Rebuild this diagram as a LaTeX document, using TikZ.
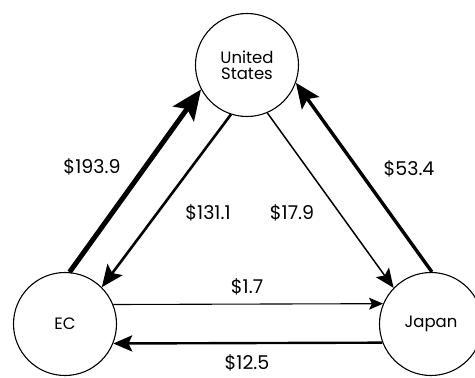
\documentclass[tikz,border=0pt]{standalone}
\usepackage{fontspec}
\setmainfont{Poppins}
\usetikzlibrary{arrows.meta}

\begin{document}
\begin{tikzpicture}[x=1pt, y=-1pt, country/.style={circle, draw, line width=1.1pt,
            minimum size=103pt, inner sep=0pt, align=center, font=\fontsize{16.5}{18}\selectfont},
          flow/.style={-{Stealth[length=#1, width=0.85*#1, inset=0.2*#1]}},
          amount/.style={inner sep=1pt, font=\fontsize{19}{21}\selectfont}]
          \useasboundingbox (0,0) rectangle (475,378);

          \node[country] (us) at (247,65) {United\\[-2pt]States};
          \node[country] (ec) at (65,324) {EC};
          \node[country] (jp) at (431,324) {Japan};

          \draw[flow=30pt, line width=5pt] (ec.85) -- (us.208);
          \draw[flow=22pt, line width=2.6pt] (us.252) -- (ec.45);
          \draw[flow=19pt, line width=1.5pt] (us.293) -- (jp.136);
          \draw[flow=25pt, line width=3.4pt] (jp.89) -- (us.340);
          \draw[flow=14pt, line width=1.1pt] (ec.22.6) -- (jp.157.4);
          \draw[flow=19pt, line width=2.4pt] (jp.201.4) -- (ec.338.6);

          \node[amount] (l1) at (92,167) {\$193.9};
          \node[amount] (l2) at (208,213) {\$131.1};
          \node[amount] (l3) at (292,213) {\$17.9};
          \node[amount] (l4) at (409,169) {\$53.4};
          \node[amount] (l5) at (247,287) {\$1.7};
          \node[amount] (l6) at (247,363) {\$12.5};
        \end{tikzpicture}
\end{document}
